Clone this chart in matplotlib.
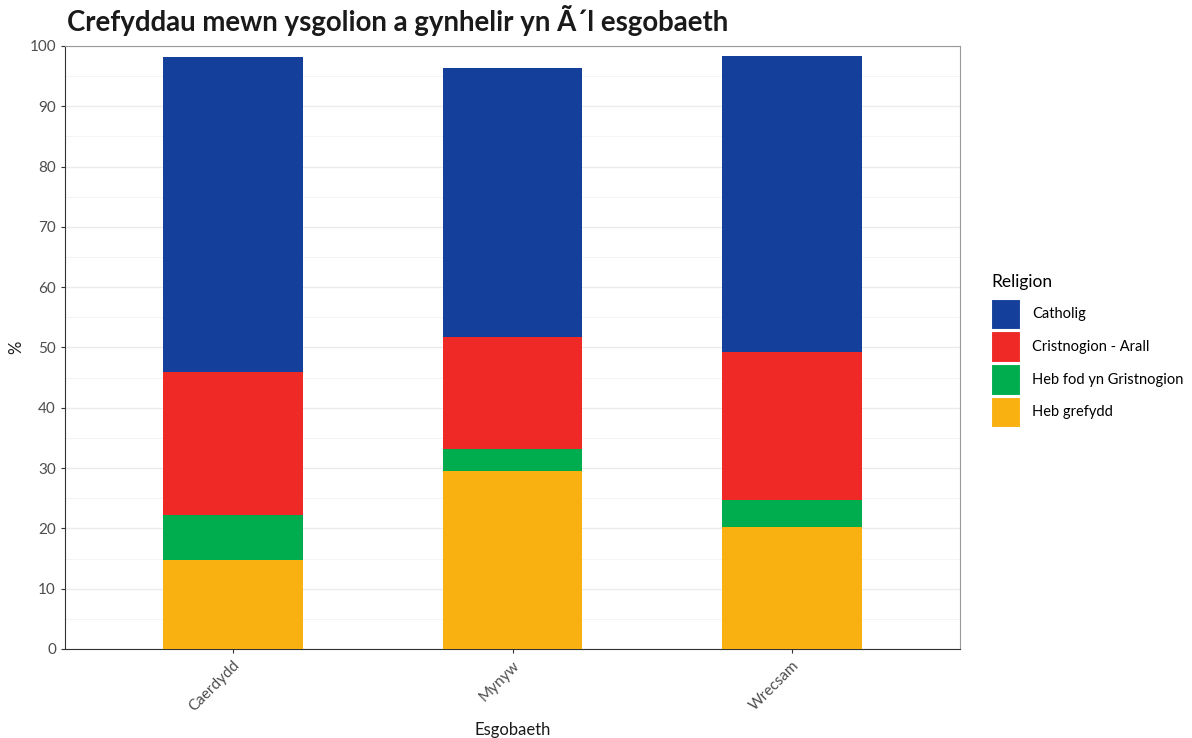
import matplotlib
matplotlib.use("Agg")
import matplotlib.pyplot as plt
from matplotlib.patches import Patch
import numpy as np

plt.rcParams['font.family'] = ['Lato', 'DejaVu Sans']

# Data
dioceses = ["Caerdydd", "Mynyw", "Wrecsam"]
religions = ["Catholig", "Cristnogion - Arall", "Heb fod yn Gristnogion", "Heb grefydd"]
heb_grefydd = [14.7, 29.6, 20.2]
heb_fod = [7.5, 3.6, 4.5]
cristnogion_arall = [23.8, 18.5, 24.6]
catholig = [52.2, 44.6, 49.0]

colors = {
    "Catholig": "#143F9A",
    "Cristnogion - Arall": "#EF2A26",
    "Heb fod yn Gristnogion": "#00AD4E",
    "Heb grefydd": "#F9B111",
}

fig = plt.figure(figsize=(11.92, 7.38), dpi=100)
ax = fig.add_axes([0.0545, 0.1206, 0.7509, 0.8171])

x = np.arange(1, len(dioceses) + 1)
width = 0.5

# stack from bottom up
stack_order = [("Heb grefydd", heb_grefydd), ("Heb fod yn Gristnogion", heb_fod),
               ("Cristnogion - Arall", cristnogion_arall), ("Catholig", catholig)]
bottom = np.zeros(len(dioceses))
for name, vals in stack_order:
    vals = np.array(vals)
    ax.bar(x, vals, width, bottom=bottom, color=colors[name], zorder=3, linewidth=0)
    bottom += vals

ax.set_xlim(0.4, 3.6)
ax.set_ylim(0, 100)
ax.set_xticks(x)
ax.set_xticklabels(dioceses, rotation=45, ha="right", rotation_mode="anchor",
                   fontsize=11, color="#4D4D4D")
ax.set_yticks(np.arange(0, 101, 10))
ax.set_yticks(np.arange(5, 100, 10), minor=True)
ax.tick_params(axis="y", which="major", labelsize=11, labelcolor="#4D4D4D",
               color="#333333", length=3)
ax.tick_params(axis="y", which="minor", length=0)
ax.tick_params(axis="x", color="#333333", length=3)

ax.grid(axis="y", which="major", color="#EBEBEB", linewidth=1.0, zorder=0)
ax.grid(axis="y", which="minor", color="#F3F3F3", linewidth=0.6, zorder=0)
ax.set_axisbelow(True)

for side in ["top", "right"]:
    ax.spines[side].set_color("#9A9A9A")
    ax.spines[side].set_linewidth(0.8)
for side in ["left", "bottom"]:
    ax.spines[side].set_color("#333333")
    ax.spines[side].set_linewidth(0.8)

ax.set_xlabel("Esgobaeth", fontsize=12, color="#1A1A1A", labelpad=6)
ax.set_ylabel("%", fontsize=12, color="#1A1A1A", labelpad=4)

fig.text(0.056, 0.972, "Crefyddau mewn ysgolion a gynhelir yn Ã´l esgobaeth",
         fontsize=19.9, fontweight="bold", color="#1A1A1A", va="center", ha="left")

handles = [Patch(facecolor=colors[r], edgecolor="white", linewidth=0.8) for r in religions]
leg = fig.legend(handles, religions, title="Religion", loc="upper left",
                 bbox_to_anchor=(0.823, 0.643), frameon=False, fontsize=10.5,
                 title_fontsize=12.5, handlelength=2.0, handleheight=2.84,
                 labelspacing=0.15, handletextpad=0.8, borderpad=0.2)
leg._legend_box.align = "left"
leg._legend_box.sep = 0.15 * 10.5 + 5

fig.savefig("out.png", dpi=100, facecolor="white")
